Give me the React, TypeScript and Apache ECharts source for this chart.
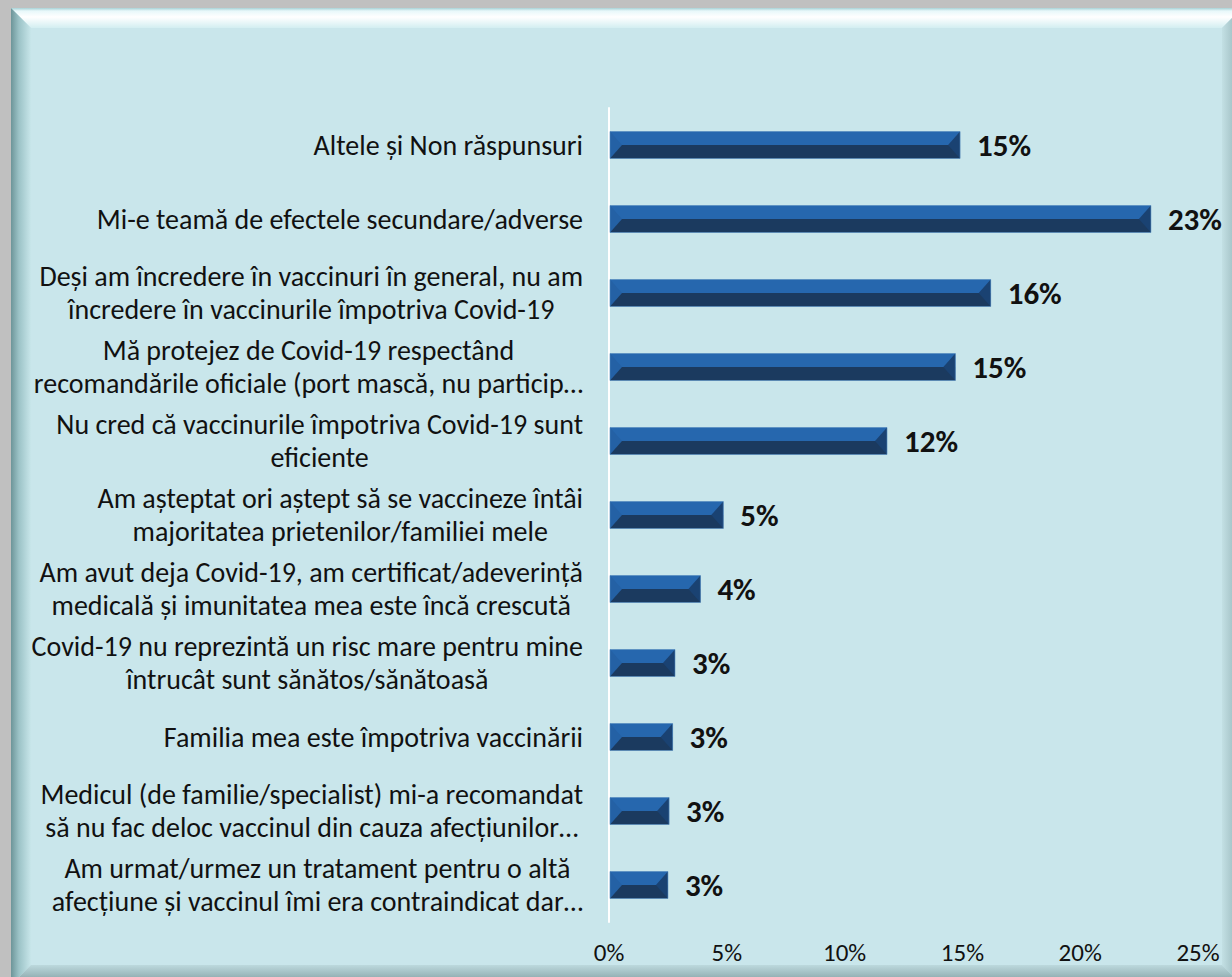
import React, { useEffect, useRef } from "react";
import * as echarts from "echarts";

const categories: string[] = [
  "Altele și Non răspunsuri",
  "Mi-e teamă de efectele secundare/adverse",
  "Deși am încredere în vaccinuri în general, nu am\nîncredere în vaccinurile împotriva Covid-19",
  "Mă protejez de Covid-19 respectând\nrecomandările oficiale (port mască, nu particip…",
  "Nu cred că vaccinurile împotriva Covid-19 sunt\neficiente",
  "Am așteptat ori aștept să se vaccineze întâi\nmajoritatea prietenilor/familiei mele",
  "Am avut deja Covid-19, am certificat/adeverință\nmedicală și imunitatea mea este încă crescută",
  "Covid-19 nu reprezintă un risc mare pentru mine\nîntrucât sunt sănătos/sănătoasă",
  "Familia mea este împotriva vaccinării",
  "Medicul (de familie/specialist) mi-a recomandat\nsă nu fac deloc vaccinul din cauza afecțiunilor…",
  "Am urmat/urmez un tratament pentru o altă\nafecțiune și vaccinul îmi era contraindicat dar…",
];

const values: number[] = [14.9, 23.0, 16.2, 14.7, 11.8, 4.85, 3.88, 2.8, 2.7, 2.55, 2.5];

const xTicks = { min: 0, max: 25, interval: 5 };

const FONT = "Carlito, Lato, 'Liberation Sans', sans-serif";

export default function App() {
  const ref = useRef<HTMLDivElement>(null);

  useEffect(() => {
    if (!ref.current) return;
    const chart = echarts.init(ref.current, null, { renderer: "svg" });
    const W = 1232;
    const H = 977;
    const x0 = 11, y0 = 8, x1 = 1242, y1 = 985, b = 20;

    const option: any = {
      animation: false,
      backgroundColor: "#c0c0c0",
      graphic: [
        {
          type: "rect",
          z: -10,
          silent: true,
          shape: { x: x0, y: y0, width: x1 - x0, height: y1 - y0 },
          style: { fill: "#c9e6eb" },
        },
        {
          type: "polygon",
          z: -9,
          silent: true,
          shape: { points: [[x0, y0], [x1, y0], [x1 - b, y0 + b], [x0 + b, y0 + b]] },
          style: {
            fill: new echarts.graphic.LinearGradient(0, 0, 0, 1, [
              { offset: 0, color: "#a8d2d7" },
              { offset: 0.15, color: "#e8f8fa" },
              { offset: 0.45, color: "#ffffff" },
              { offset: 1, color: "#d3eef1" },
            ]),
          },
        },
        {
          type: "polygon",
          z: -9,
          silent: true,
          shape: { points: [[x0, y0], [x0 + b, y0 + b], [x0 + b, y1 - b], [x0, y1]] },
          style: {
            fill: new echarts.graphic.LinearGradient(0, 0, 1, 0, [
              { offset: 0, color: "#6d9599" },
              { offset: 0.4, color: "#9cc3c7" },
              { offset: 1, color: "#c8e6ea" },
            ]),
          },
        },
        {
          type: "polygon",
          z: -9,
          silent: true,
          shape: { points: [[x1, y0], [x1, y1], [x1 - b, y1 - b], [x1 - b, y0 + b]] },
          style: {
            fill: new echarts.graphic.LinearGradient(0, 0, 1, 0, [
              { offset: 0, color: "#c3e0e4" },
              { offset: 0.5, color: "#a9c7cb" },
              { offset: 1, color: "#7d9699" },
            ]),
          },
        },
        {
          type: "polygon",
          z: -9,
          silent: true,
          shape: { points: [[x0, y1], [x0 + b, y1 - b], [x1 - b, y1 - b], [x1, y1]] },
          style: {
            fill: new echarts.graphic.LinearGradient(0, 0, 0, 1, [
              { offset: 0, color: "#bcd9dd" },
              { offset: 0.5, color: "#9db9bd" },
              { offset: 1, color: "#7a9295" },
            ]),
          },
        },
      ],
      grid: { left: 609, right: W - 1198, top: 108, bottom: H - 922, containLabel: false },
      xAxis: {
        type: "value",
        min: xTicks.min,
        max: xTicks.max,
        interval: xTicks.interval,
        axisLine: { show: false },
        axisTick: { show: false },
        splitLine: { show: false },
        axisLabel: {
          formatter: "{value}%",
          fontFamily: FONT,
          fontSize: 25,
          color: "#111",
          margin: 18,
        },
      },
      yAxis: {
        type: "category",
        inverse: true,
        data: categories,
        axisLine: { show: true, lineStyle: { color: "#ffffff", width: 2 } },
        axisTick: { show: false },
        splitLine: { show: false },
        axisLabel: {
          margin: 26,
          fontFamily: FONT,
          fontSize: 28,
          lineHeight: 33,
          color: "#111",
          formatter: (v: string) =>
            v
              .split("\n")
              .map((l) => `{c|${l}}`)
              .join("\n"),
          rich: {
            c: {
              align: "center",
              fontFamily: FONT,
              fontSize: 28,
              lineHeight: 33,
              color: "#111",
            },
          },
        },
      },
      series: [
        {
          type: "custom",
          data: values.map((v, i) => [v, i]),
          encode: { x: 0, y: 1 },
          renderItem: (params: any, api: any) => {
            const v = api.value(0);
            const idx = api.value(1);
            const s = api.coord([0, idx]);
            const e = api.coord([v, idx]);
            const h = 27;
            const top = s[1] - h / 2;
            const mid = s[1];
            const bot = s[1] + h / 2;
            const left = s[0] + 1;
            const right = e[0];
            const w = Math.min(12, (right - left) / 2);
            return {
              type: "group",
              children: [
                {
                  type: "rect",
                  shape: { x: left, y: top, width: right - left, height: h / 2 },
                  style: { fill: "#2667ae" },
                },
                {
                  type: "rect",
                  shape: { x: left, y: mid, width: right - left, height: h / 2 },
                  style: { fill: "#1b3a5f" },
                },
                {
                  type: "polygon",
                  shape: { points: [[left, top], [left + w, mid], [left, bot]] },
                  style: { fill: "#2461a5" },
                },
                {
                  type: "polygon",
                  shape: { points: [[right, top], [right - w, mid], [right, bot]] },
                  style: { fill: "#1a4272" },
                },
                {
                  type: "rect",
                  shape: { x: left, y: top, width: right - left, height: h },
                  style: { fill: "none", stroke: "#4f86bd", lineWidth: 0.6 },
                },
              ],
            };
          },
          z: 2,
        },
        {
          type: "bar",
          data: values,
          barWidth: 27,
          itemStyle: { color: "rgba(0,0,0,0)" },
          z: 3,
          label: {
            show: true,
            position: "right",
            distance: 17,
            fontFamily: FONT,
            fontWeight: "bold",
            fontSize: 31,
            color: "#111",
            formatter: (p: any) => `${Math.round(p.value)}%`,
          },
        },
      ],
    };

    chart.setOption(option);
    return () => chart.dispose();
  }, []);

  return (
    <div
      ref={ref}
      style={{ position: "fixed", left: 0, top: 0, width: 1232, height: 977 }}
    />
  );
}
